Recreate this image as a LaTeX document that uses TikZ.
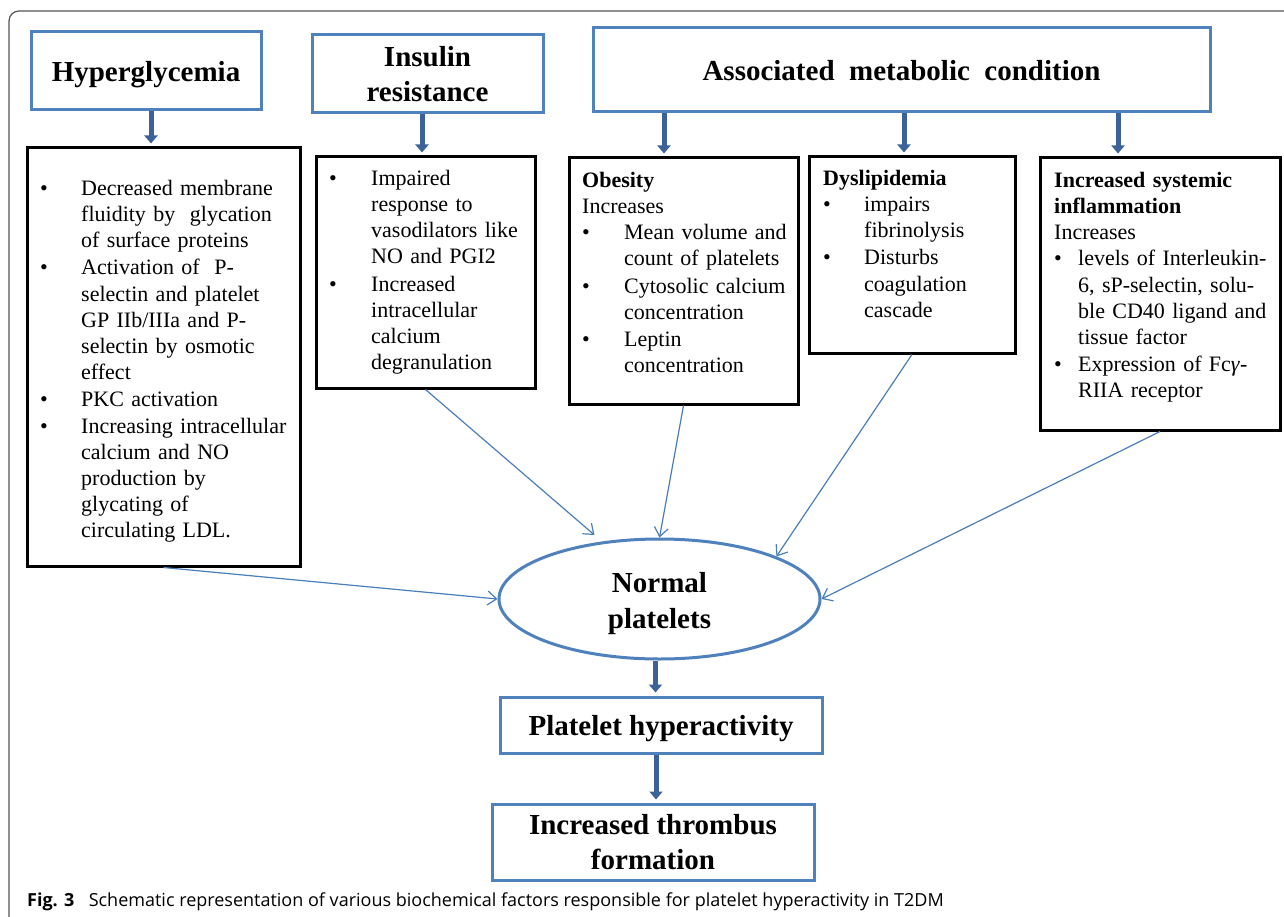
\documentclass[tikz,border=0pt]{standalone}
\usepackage{fontspec}
\setmainfont{Liberation Serif}
\newfontfamily\capfont{Open Sans}
\usetikzlibrary{shapes.geometric,arrows.meta,calc}
\definecolor{boxblue}{HTML}{4F81BD}
\definecolor{arrblue}{HTML}{3B639A}
\definecolor{thinblue}{HTML}{4A7EBB}
\definecolor{framegray}{HTML}{555555}
\newcommand{\bitem}[2]{\noindent\makebox[#1][l]{\textbullet}\begin{tabular}[t]{@{}l@{}}#2\end{tabular}\par}
\tikzset{
  headbox/.style={draw=boxblue, line width=3pt, fill=white, align=center,
    font=\fontsize{29}{35}\selectfont\bfseries, inner sep=0pt},
  onel/.style={text depth=0pt},
  detbox/.style={draw=black, line width=3pt, inner sep=0pt},
  dettext/.style={anchor=north west, inner sep=0pt, text width=#1, align=left,
    font=\fontsize{22}{26.2}\selectfont},
  bigarrow/.style={draw=arrblue, line width=5pt, -{Triangle[width=13pt,length=8pt]}, shorten >=3pt},
  thinarrow/.style={draw=thinblue, line width=1.2pt, -{Straight Barb[length=9pt,width=14pt]}},
  framestyle/.style={draw=framegray, line width=1.2pt, rounded corners=10pt}
}
\begin{document}
\begin{tikzpicture}[x=1pt,y=-1pt]
\useasboundingbox (0,0) rectangle (1284,917);
\fill[white] (0,0) rectangle (1284,917);
\draw[framestyle] (9,930) -- (9,11) -- (1300,11);

% heading boxes
\node[headbox, onel, minimum width=230pt, minimum height=78pt] (hg) at (146,71) {Hyperglycemia};
\node[headbox, minimum width=231pt, minimum height=78pt] (ir) at (427.5,74) {Insulin\\resistance};
\node[headbox, onel, minimum width=617pt, minimum height=84pt] (amc) at (901.5,70) {Associated\ \ metabolic\ \ condition};

% detail boxes
\node[detbox, minimum width=273pt, minimum height=418pt] (hgd) at (163.5,357) {};
\node[detbox, minimum width=219pt, minimum height=231pt] (ird) at (425.5,272.5) {};
\node[detbox, minimum width=229pt, minimum height=246pt] (obd) at (683.5,281) {};
\node[detbox, minimum width=206pt, minimum height=196pt] (dyd) at (912,255) {};
\node[detbox, minimum width=240pt, minimum height=272pt] (ind) at (1160,294) {};

\node[dettext=260pt] (hgt) at (40,176.7) {%
\bitem{41pt}{Decreased membrane\\fluidity by\ \ glycation\\of surface proteins}%
\bitem{41pt}{Activation of\ \ P-\\selectin\ and platelet\\GP IIb/IIIa and P-\\selectin\ by osmotic\\effect}%
\bitem{41pt}{PKC activation}%
\bitem{41pt}{Increasing intracellular\\calcium and NO\\production by\\glycating of\\circulating LDL.}};

\node[dettext=205pt] (irt) at (329,166.7) {%
\bitem{42pt}{Impaired\\response to\\vasodilators like\\NO and PGI2}%
\bitem{42pt}{Increased\\intracellular\\calcium\\degranulation}};

\node[dettext=214pt] (obt) at (582,168.7) {\strut\textbf{Obesity}\par
Increases\par
\bitem{42pt}{Mean volume and\\count of platelets}%
\bitem{42pt}{Cytosolic calcium\\concentration}%
\bitem{42pt}{Leptin\\concentration}};

\node[dettext=190pt] (dyt) at (823,166.7) {\strut\textbf{Dyslipidemia}\par
\bitem{41pt}{impairs\\fibrinolysis}%
\bitem{41pt}{Disturbs\\coagulation\\cascade}};

\node[dettext=224pt] (int) at (1054,168.7) {\strut\textbf{Increased systemic}\par
\textbf{inflammation}\par
Increases\par
\bitem{24pt}{levels of Interleukin-\\6, sP-selectin, solu-\\ble CD40 ligand and\\tissue factor}%
\bitem{24pt}{Expression of Fc\textit{γ}-\\RIIA receptor}};

% centre
\node[ellipse, draw=boxblue, line width=3pt, fill=white, minimum width=321pt, minimum height=120pt,
  inner sep=0pt, align=center, font=\fontsize{29}{36}\selectfont\bfseries] (ell) at (659.5,599) {\rule{0pt}{30pt}Normal\\platelets};
\node[headbox, onel, minimum width=322pt, minimum height=56pt] (ph) at (661,725) {Platelet hyperactivity};
\node[headbox, minimum width=322pt, minimum height=76pt] (itf) at (653,842) {Increased thrombus\\formation};

% thick arrows
\draw[bigarrow] ([xshift=5pt]hg.south) -- ([xshift=5pt]hg.south |- hgd.north);
\draw[bigarrow] ([xshift=-5.5pt]ir.south) -- ([xshift=-5.5pt]ir.south |- ird.north);
\draw[bigarrow] ([xshift=-237.5pt]amc.south) -- ([xshift=-237.5pt]amc.south |- obd.north);
\draw[bigarrow] ([xshift=2.5pt]amc.south) -- ([xshift=2.5pt]amc.south |- dyd.north);
\draw[bigarrow] ([xshift=216.5pt]amc.south) -- ([xshift=216.5pt]amc.south |- ind.north);
\draw[bigarrow] ([xshift=-4pt]ell.south) -- ([xshift=-4pt]ell.south |- ph.north);
\draw[bigarrow] ([xshift=-5pt]ph.south) -- ([xshift=-5pt]ph.south |- itf.north);

% thin arrows
\draw[thinarrow] (hgd.south) -- (ell.west);
\draw[thinarrow, shorten >=10pt] (ird.south) -- (ell.135);
\draw[thinarrow] (obd.south) -- (ell.north);
\draw[thinarrow] (dyd.south) -- (ell.20);
\draw[thinarrow] (ind.south) -- (ell.east);

% caption
\node[anchor=base west, inner sep=0pt, font=\capfont\fontsize{18}{21}\selectfont] (cap) at (27,906)
  {\textbf{Fig. 3}\hspace{0.8em}Schematic representation of various biochemical factors responsible for platelet hyperactivity in T2DM};
\end{tikzpicture}
\end{document}
